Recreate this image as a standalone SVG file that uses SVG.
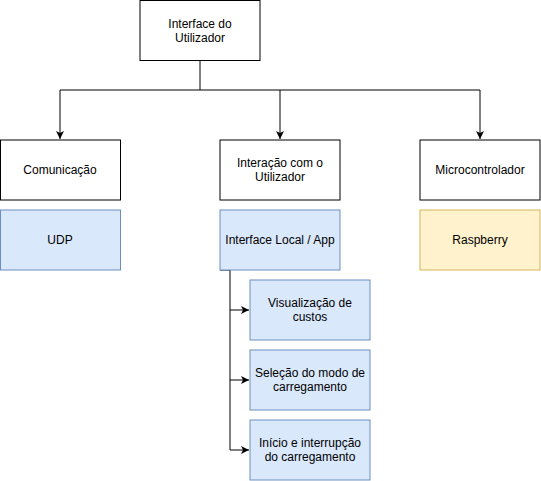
<svg xmlns="http://www.w3.org/2000/svg" width="541" height="481" viewBox="0 0 541 481">
<style>
text{font-family:"Liberation Sans",Arial,sans-serif;font-size:12px;fill:#000;text-anchor:middle}
.w{fill:#fff;stroke:#000;stroke-width:1}
.b{fill:#dae8fc;stroke:#6c8ebf;stroke-width:1}
.y{fill:#fff2cc;stroke:#d6b656;stroke-width:1}
.e{fill:none;stroke:#000;stroke-width:1}
</style>
<defs>
<marker id="arr" markerUnits="userSpaceOnUse" viewBox="0 0 8 9" refX="8" refY="4.5" markerWidth="8" markerHeight="9" orient="auto">
<path d="M0,0.5 L8,4.5 L0,8.5 L2,4.5 Z" fill="#000"/>
</marker>
</defs>
<rect width="541" height="481" fill="#fff"/>
<g id="connectors">
<path class="e" d="M200,60 V90 H60 V139" marker-end="url(#arr)"/>
<path class="e" d="M200,90 H280 V139" marker-end="url(#arr)"/>
<path class="e" d="M280,90 H480 V139" marker-end="url(#arr)"/>
<path class="e" d="M220,270 H230 V310 H249" marker-end="url(#arr)"/>
<path class="e" d="M230,310 V380 H249" marker-end="url(#arr)"/>
<path class="e" d="M230,380 V450 H249" marker-end="url(#arr)"/>
</g>
<g id="n-ui"><rect class="w" x="140" y="0.5" width="120" height="60"/><text x="200" y="28">Interface do</text><text x="200" y="42">Utilizador</text></g>
<g id="n-com"><rect class="w" x="0.5" y="140" width="120" height="60"/><text x="60" y="174">Comunicação</text></g>
<g id="n-int"><rect class="w" x="220" y="140" width="120" height="60"/><text x="280" y="167">Interação com o</text><text x="280" y="181">Utilizador</text></g>
<g id="n-mic"><rect class="w" x="420" y="140" width="120" height="60"/><text x="480" y="174">Microcontrolador</text></g>
<g id="n-udp"><rect class="b" x="0.5" y="210" width="120" height="60"/><text x="60" y="244">UDP</text></g>
<g id="n-app"><rect class="b" x="220" y="210" width="120" height="60"/><text x="280" y="244">Interface Local / App</text></g>
<g id="n-rasp"><rect class="y" x="420" y="210" width="120" height="60"/><text x="480" y="244">Raspberry</text></g>
<g id="n-vis"><rect class="b" x="250" y="280" width="120" height="60"/><text x="310" y="307">Visualização de</text><text x="310" y="321">custos</text></g>
<g id="n-sel"><rect class="b" x="250" y="350" width="120" height="60"/><text x="310" y="377">Seleção do modo de</text><text x="310" y="391">carregamento</text></g>
<g id="n-ini"><rect class="b" x="250" y="420" width="120" height="60"/><text x="310" y="447">Início e interrupção</text><text x="310" y="461">do carregamento</text></g>
</svg>
